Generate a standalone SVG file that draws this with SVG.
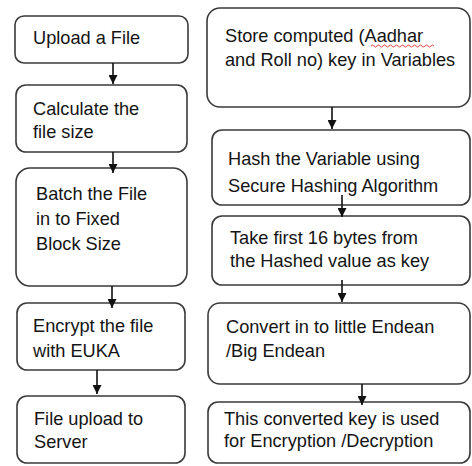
<svg xmlns="http://www.w3.org/2000/svg" width="472" height="466" viewBox="0 0 472 466">
  <style>
    .box { fill: #ffffff; stroke: #3a3a3a; stroke-width: 1.6; }
    .lbl { font-family: "Liberation Sans", Arial, sans-serif; font-size: 18.2px; fill: #141414; }
    .link { stroke: #111111; stroke-width: 1.6; fill: none; marker-end: url(#head); }
  </style>
  <defs>
    <marker id="head" viewBox="0 0 10 10" refX="10" refY="5" markerUnits="userSpaceOnUse" markerWidth="9" markerHeight="9" orient="auto">
      <path d="M0,0 L10,5 L0,10 Z" fill="#111111"/>
    </marker>
  </defs>
  <rect width="472" height="466" fill="#ffffff"/>

  <!-- left column: file processing steps -->
  <g id="upload">
    <rect class="box" x="15" y="16" width="173" height="47" rx="9"/>
    <text class="lbl" x="33" y="44">Upload a File</text>
  </g>
  <g id="filesize">
    <rect class="box" x="16" y="85" width="171" height="67" rx="10"/>
    <text class="lbl" x="33" y="115">Calculate the</text>
    <text class="lbl" x="33" y="138">file size</text>
  </g>
  <g id="batch">
    <rect class="box" x="16" y="168" width="171" height="118" rx="14"/>
    <text class="lbl" x="36" y="200">Batch the File</text>
    <text class="lbl" x="36" y="225">in to Fixed</text>
    <text class="lbl" x="36" y="250">Block Size</text>
  </g>
  <g id="encrypt">
    <rect class="box" x="17" y="303" width="168" height="67" rx="10"/>
    <text class="lbl" x="33" y="332">Encrypt the file</text>
    <text class="lbl" x="33" y="357">with EUKA</text>
  </g>
  <g id="server">
    <rect class="box" x="17" y="396" width="168" height="67" rx="10"/>
    <text class="lbl" x="34" y="425">File upload to</text>
    <text class="lbl" x="34" y="448">Server</text>
  </g>

  <!-- right column: key derivation steps -->
  <g id="store">
    <rect class="box" x="207" y="8" width="263" height="99" rx="13"/>
    <text class="lbl" x="225" y="42">Store computed (Aadhar</text>
    <text class="lbl" x="225" y="66">and Roll no) key in Variables</text>
    <path d="M371,46 q1.5,-2 3,0 t3,0 t3,0 t3,0 t3,0 t3,0 t3,0 t3,0 t3,0 t3,0 t3,0 t3,0 t3,0 t3,0 t3,0 t3,0 t3,0 t3,0 t3,0 t3,0 t3,0" fill="none" stroke="#e03030" stroke-width="0.9"/>
  </g>
  <g id="hash">
    <rect class="box" x="212" y="130" width="258" height="75" rx="10"/>
    <text class="lbl" x="228" y="165">Hash the Variable using</text>
    <text class="lbl" x="228" y="192">Secure Hashing Algorithm</text>
  </g>
  <g id="firstbytes">
    <rect class="box" x="212" y="216" width="258" height="69" rx="10"/>
    <text class="lbl" x="230" y="244">Take first 16 bytes from</text>
    <text class="lbl" x="230" y="267">the Hashed value as key</text>
  </g>
  <g id="endian">
    <rect class="box" x="208" y="303" width="262" height="81" rx="12"/>
    <text class="lbl" x="226" y="333">Convert in to little Endean</text>
    <text class="lbl" x="226" y="357">/Big Endean</text>
  </g>
  <g id="usekey">
    <rect class="box" x="208" y="402" width="262" height="61" rx="10"/>
    <text class="lbl" x="224" y="425">This converted key is used</text>
    <text class="lbl" x="224" y="447">for Encryption /Decryption</text>
  </g>

  <!-- connectors -->
  <g id="connectors">
    <line class="link" x1="113" y1="63" x2="113" y2="84"/>
    <line class="link" x1="113" y1="152" x2="113" y2="173"/>
    <line class="link" x1="112" y1="286" x2="112" y2="308"/>
    <line class="link" x1="97" y1="370" x2="97" y2="394"/>
    <line class="link" x1="332" y1="107" x2="332" y2="129"/>
    <line class="link" x1="342" y1="195" x2="342" y2="217"/>
    <line class="link" x1="342" y1="280" x2="342" y2="302"/>
    <line class="link" x1="362" y1="384" x2="362" y2="405"/>
  </g>
</svg>
